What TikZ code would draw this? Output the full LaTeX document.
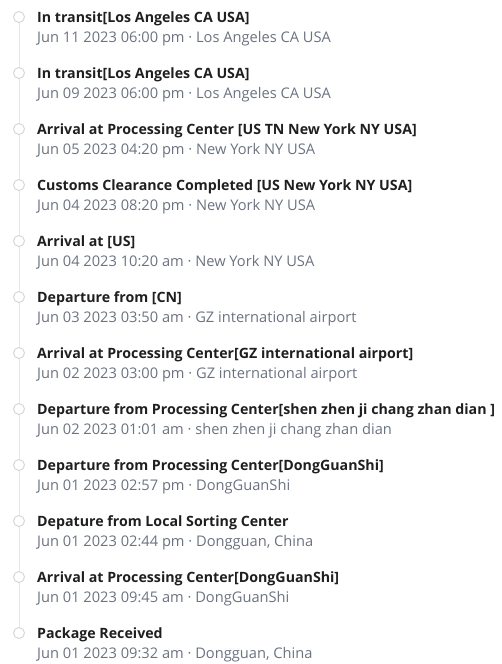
\documentclass[tikz,border=0pt]{standalone}
\usepackage{fontspec}
\setmainfont{Open Sans}
\definecolor{ttl}{HTML}{1F1F1F}
\definecolor{sub}{HTML}{6B7280}
\definecolor{ln}{HTML}{E5E7EB}
\definecolor{circ}{HTML}{D4D7DC}
\begin{document}
\begin{tikzpicture}[x=1pt,y=-1pt,
  dot/.style={circle,draw=circ,fill=white,line width=1pt,minimum size=11pt,inner sep=0pt},
  ttlt/.style={anchor=west,inner sep=0pt,font=\fontsize{14.2}{16}\selectfont\bfseries,text=ttl},
  subt/.style={anchor=west,inner sep=0pt,font=\fontsize{14.65}{16}\selectfont,text=sub}]
\useasboundingbox (0,0) rectangle (501,664);
\foreach \i/\t/\s in {
 0/{In transit[Los Angeles CA USA]}/{Jun 11 2023 06:00 pm · Los Angeles CA USA},
 1/{In transit[Los Angeles CA USA]}/{Jun 09 2023 06:00 pm · Los Angeles CA USA},
 2/{Arrival at Processing Center [US TN New York NY USA]}/{Jun 05 2023 04:20 pm · New York NY USA},
 3/{Customs Clearance Completed [US New York NY USA]}/{Jun 04 2023 08:20 pm · New York NY USA},
 4/{Arrival at [US]}/{Jun 04 2023 10:20 am · New York NY USA},
 5/{Departure from [CN]}/{Jun 03 2023 03:50 am · GZ international airport},
 6/{Arrival at Processing Center[GZ international airport]}/{Jun 02 2023 03:00 pm · GZ international airport},
 7/{Departure from Processing Center[shen zhen ji chang zhan dian ]}/{Jun 02 2023 01:01 am · shen zhen ji chang zhan dian},
 8/{Departure from Processing Center[DongGuanShi]}/{Jun 01 2023 02:57 pm · DongGuanShi},
 9/{Depature from Local Sorting Center}/{Jun 01 2023 02:44 pm · Dongguan, China},
 10/{Arrival at Processing Center[DongGuanShi]}/{Jun 01 2023 09:45 am · DongGuanShi},
 11/{Package Received}/{Jun 01 2023 09:32 am · Dongguan, China}}
{
  \node[ttlt] (t\i) at (37,{18.5+56*\i}) {\t};
  \node[subt] (s\i) at (37,{38.5+56*\i}) {\s};
  \coordinate (c\i) at (19,{17+56*\i});
}
\draw[ln,line width=1pt] (c0) -- (c11);
\foreach \i in {0,...,11} \node[dot] (d\i) at (c\i) {};
\end{tikzpicture}
\end{document}
